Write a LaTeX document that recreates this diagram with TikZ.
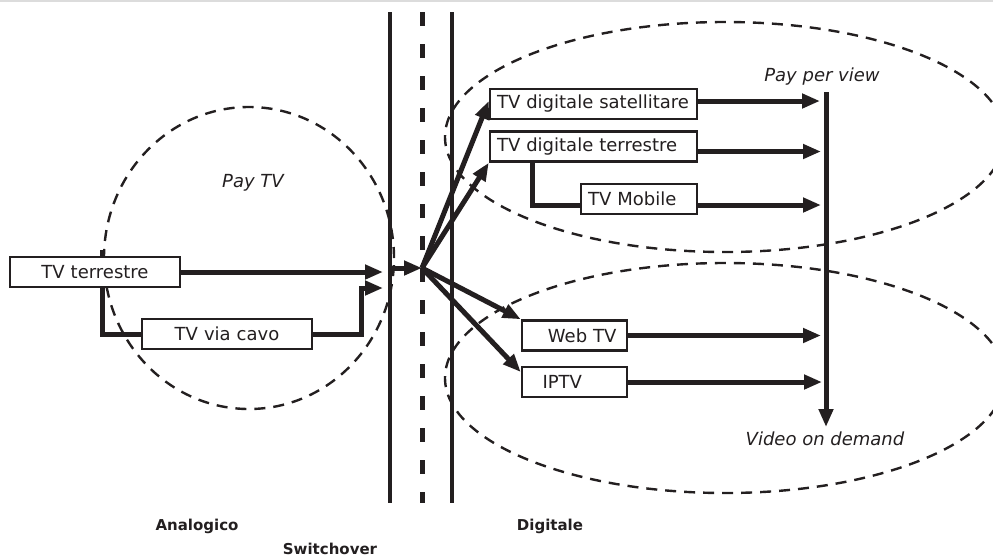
\documentclass[tikz,border=0pt]{standalone}
\usepackage{fontspec}
\setmainfont{DejaVu Sans}
\usepackage{tikz}
\usetikzlibrary{arrows.meta, positioning}
\definecolor{ink}{HTML}{231F20}
\definecolor{frame}{HTML}{DCDCDC}

\begin{document}
\begin{tikzpicture}[x=1pt, y=-1pt, every node/.style={text=ink}]
    \tikzstyle{box} = [rectangle, draw=ink, line width=2.5pt, fill=white, minimum height=30pt, inner xsep=7pt, inner ysep=0pt, font=\fontsize{18}{20}\selectfont]
    \tikzstyle{flow} = [draw=ink, line width=5pt, -{Triangle[length=18pt, width=14pt]}]
    \tikzstyle{wire} = [draw=ink, line width=5pt]
    \tikzstyle{zoneline} = [draw=ink, line width=2.4pt, dash pattern=on 11pt off 8pt]
    \tikzstyle{tag} = [anchor=base, font=\fontsize{18}{20}\selectfont\itshape]
    \tikzstyle{area} = [anchor=base, font=\fontsize{15}{17}\selectfont\bfseries]

    \useasboundingbox (0,0) rectangle (993,558);
    \clip (0,0) rectangle (993,558);
    \draw [frame, line width=1.5pt] (0,1) -- (993,1);

    % zones
    \draw [zoneline] (249,258) ellipse [x radius=145pt, y radius=151pt];
    \draw [zoneline] (725,137) ellipse [x radius=280pt, y radius=115pt];
    \draw [zoneline] (725,378) ellipse [x radius=280pt, y radius=115pt];

    % switchover
    \draw [ink, line width=4pt] (390,12) -- (390,503);
    \draw [ink, line width=5pt, dash pattern=on 14pt off 18pt] (422,12) -- (422,503);
    \draw [ink, line width=4pt] (452,12) -- (452,503);

    \node (terr) [box, text width=156pt, align=center] at (95,272) {TV terrestre};
    \node (cavo) [box, text width=156pt, align=center] at (227,334) {TV via cavo};
    \node (sat) [box, text width=193pt, align=left] at (593.5,104) {TV digitale satellitare};
    \node (dterr) [box, text width=193pt, align=left, below=10pt of sat] {TV digitale terrestre};
    \node (mob) [box, text width=102pt, align=left] at (639,199) {TV Mobile};
    \node (web) [box, text width=84pt, align=right, minimum width=105pt] at (574.5,335.5) {Web TV};
    \node (iptv) [box, text width=64pt, align=left, minimum width=105pt] at (574.5,382) {IPTV};

    \coordinate (inA) at (383,272);
    \coordinate (inB) at (383,288);
    \coordinate (hubin) at (392,268);
    \coordinate (hub) at (422,268);
    \coordinate (ppvtop) at (826,92);
    \coordinate (vodend) at (826,427);

    % analogico
    \draw [flow] (terr.east) -- (inA);
    \draw [wire] ([xshift=7pt]terr.north) -- ++(0,-6);
    \draw [wire] ([xshift=7pt]terr.south) |- (cavo.west);
    \draw [flow] (cavo.east) -- ++(48,0) |- (inB);
    \draw [flow] (hubin) -- (hub);

    % digitale
    \draw [flow] (hub) -- ([yshift=3pt]sat.west);
    \draw [flow] (hub) -- (dterr.south west);
    \draw [flow] (hub) -- (web.north west);
    \draw [flow] (hub) -- ([yshift=10pt]iptv.west);
    \draw [wire] ([xshift=-61pt]dterr.south) |- ([yshift=-6pt]mob.west);

    \draw [flow, shorten >=6pt] ([yshift=3pt]sat.east) -- ([yshift=3pt]sat.east -| ppvtop);
    \draw [flow, shorten >=5pt] ([yshift=-5pt]dterr.east) -- ([yshift=-5pt]dterr.east -| ppvtop);
    \draw [flow, shorten >=5pt] ([yshift=-6pt]mob.east) -- ([yshift=-6pt]mob.east -| ppvtop);
    \draw [flow, shorten >=5pt] (web.east) -- (web.east -| ppvtop);
    \draw [flow, shorten >=4pt] (iptv.east) -- (iptv.east -| ppvtop);
    \draw [flow] (ppvtop) -- (vodend);

    \node [tag] (paytv) at (253,187) {Pay TV};
    \node [tag] (ppv) at (822,81) {Pay per view};
    \node [tag] (vod) at (825,445) {Video on demand};
    \node [area] (analog) at (197,530) {Analogico};
    \node [area] (digit) at (550,530) {Digitale};
    \node [area] (switch) at (330,554) {Switchover};
\end{tikzpicture}
\end{document}
